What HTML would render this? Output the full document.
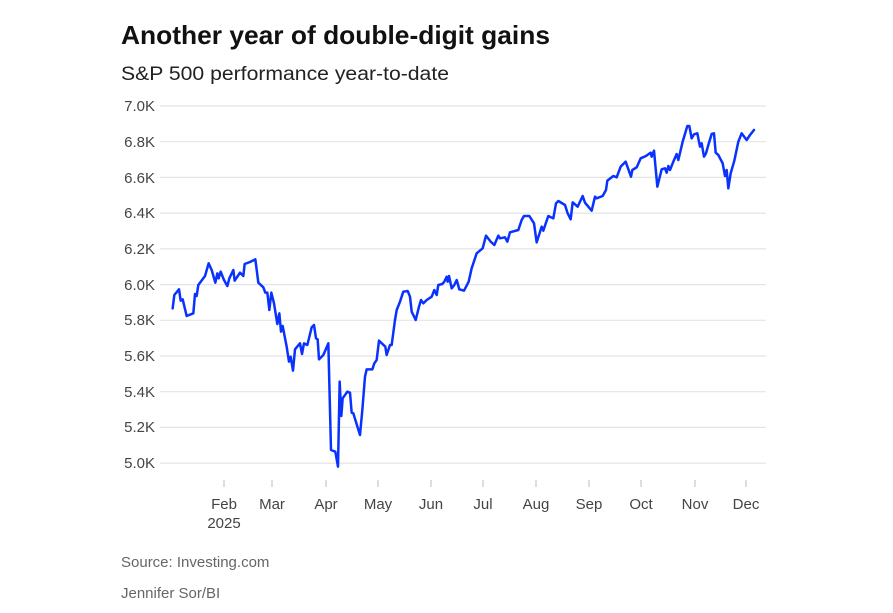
<!DOCTYPE html>
<html><head><meta charset="utf-8"><style>
body{margin:0;background:#fff;width:893px;height:608px;overflow:hidden;font-family:"Liberation Sans",sans-serif;}
</style></head><body>
<svg width="893" height="608" xmlns="http://www.w3.org/2000/svg" font-family="Liberation Sans, sans-serif">
<text x="121" y="44" font-size="26" font-weight="bold" fill="#111" textLength="429" lengthAdjust="spacingAndGlyphs">Another year of double-digit gains</text>
<text x="121" y="80" font-size="19" fill="#222" textLength="328" lengthAdjust="spacingAndGlyphs">S&amp;P 500 performance year-to-date</text>
<g stroke="#e4e4e4" stroke-width="1.2">
<line x1="160" x2="766" y1="106" y2="106"/><line x1="160" x2="766" y1="141.7" y2="141.7"/>
<line x1="160" x2="766" y1="177.4" y2="177.4"/><line x1="160" x2="766" y1="213.1" y2="213.1"/>
<line x1="160" x2="766" y1="248.9" y2="248.9"/><line x1="160" x2="766" y1="284.6" y2="284.6"/>
<line x1="160" x2="766" y1="320.3" y2="320.3"/><line x1="160" x2="766" y1="356" y2="356"/>
<line x1="160" x2="766" y1="391.7" y2="391.7"/><line x1="160" x2="766" y1="427.4" y2="427.4"/>
<line x1="160" x2="766" y1="463.2" y2="463.2"/>
</g>
<g font-size="15" fill="#444" text-anchor="end">
<text x="155" y="111">7.0K</text><text x="155" y="147">6.8K</text><text x="155" y="183">6.6K</text>
<text x="155" y="218">6.4K</text><text x="155" y="254">6.2K</text><text x="155" y="290">6.0K</text>
<text x="155" y="325">5.8K</text><text x="155" y="361">5.6K</text><text x="155" y="397">5.4K</text>
<text x="155" y="432">5.2K</text><text x="155" y="468">5.0K</text>
</g>
<g stroke="#bbb" stroke-width="1">
<line x1="224" x2="224" y1="480" y2="487"/><line x1="272" x2="272" y1="480" y2="487"/>
<line x1="326" x2="326" y1="480" y2="487"/><line x1="378" x2="378" y1="480" y2="487"/>
<line x1="431" x2="431" y1="480" y2="487"/><line x1="483" x2="483" y1="480" y2="487"/>
<line x1="536" x2="536" y1="480" y2="487"/><line x1="589" x2="589" y1="480" y2="487"/>
<line x1="641" x2="641" y1="480" y2="487"/><line x1="695" x2="695" y1="480" y2="487"/>
<line x1="746" x2="746" y1="480" y2="487"/>
</g>
<g font-size="15" fill="#444" text-anchor="middle">
<text x="224" y="509">Feb</text><text x="224" y="528">2025</text>
<text x="272" y="509">Mar</text><text x="326" y="509">Apr</text><text x="378" y="509">May</text>
<text x="431" y="509">Jun</text><text x="483" y="509">Jul</text><text x="536" y="509">Aug</text>
<text x="589" y="509">Sep</text><text x="641" y="509">Oct</text><text x="695" y="509">Nov</text>
<text x="746" y="509">Dec</text>
</g>
<g fill="none" stroke="#0a32ff" stroke-linejoin="round" stroke-linecap="round">
<polyline transform="translate(110,90) scale(0.33333)" stroke-width="7.5" points="188,655 193,615 207,598 212,632 218,628 230,678 250,670 255,612 260,618 265,585 285,558 296,520 305,540 316,578 322,550 326,565 332,545 342,570 352,588 358,565 370,540 374,572 390,548 400,558 404,522 420,516 436,508 445,578 460,592 466,608 472,608 478,660 484,608 492,640 502,702 508,670 513,725 518,708 530,770 537,815 542,800 549,842 555,778 570,760 576,792 582,760 592,765 605,712 612,705 618,745 623,748 627,808 640,795 655,760 663,1080 676,1085 684,1130 689,875 694,978 698,925 712,905 720,908 725,968 730,970 750,1035 757,960 765,860 770,838 787,838 793,820 800,810 807,752 826,770 830,795 840,765 845,765 855,690"/>
<polyline stroke-width="2.5" points="395,320 396.7,310 400,301.7 403.3,291.7 407.7,291 410,296.7 411.7,311.7 415.7,320 419,306.7 421,300 423.3,303.3 426.7,300 431.7,296.7 434.3,290 436.7,295 438.3,285 442.3,284 444.3,281.7 446.7,276.7 447.7,281.7 449,276 451.7,288.3 454.3,285 456.7,280 459.3,289.3"/>
<polyline transform="translate(450,90) scale(0.33333)" stroke-width="7.5" points="28,598 42,602 56,575 65,535 80,490 98,475 108,437 122,455 133,465 145,437 150,445 165,442 172,455 180,427 205,420 215,390 222,378 238,378 252,400 260,457 275,410 280,422 288,398 295,378 310,385 318,340 325,333 345,345 353,370 362,388 368,337 383,350 398,318 405,338 425,362 435,320 440,325 458,318 468,300 472,272 490,258 500,262 512,230 527,215 543,260 547,240 560,232 572,205 588,198 602,188 605,200 612,182 622,290 635,238 645,235 650,248 655,228 660,240 670,215 680,192 685,210 698,155 712,108 718,108 725,145 732,133 742,130 750,170 755,160 762,200 768,190 775,165 785,132 792,130 797,188 805,195 818,220 825,258 830,240 835,295 842,250 853,212 865,155 875,130 890,150 900,135 912,120"/>
</g>
<text x="121" y="567" font-size="15" fill="#666">Source: Investing.com</text>
<text x="121" y="598" font-size="15" fill="#666">Jennifer Sor/BI</text>
</svg>
</body></html>
